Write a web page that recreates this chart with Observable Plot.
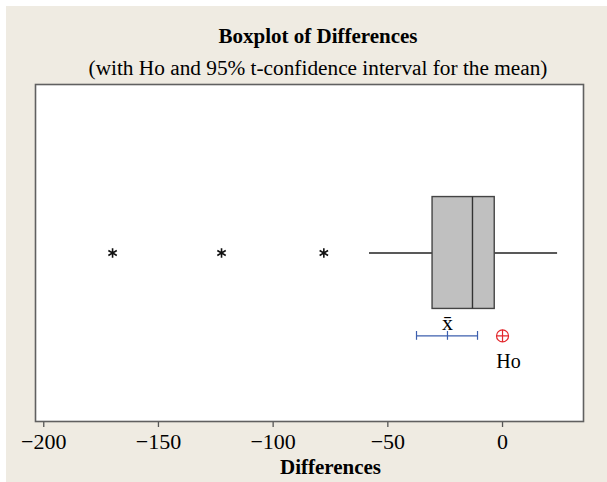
<!DOCTYPE html>
<html>
<head>
<meta charset="utf-8">
<script src="https://cdn.jsdelivr.net/npm/d3@7"></script>
<script src="https://cdn.jsdelivr.net/npm/@observablehq/plot@0.6"></script>
<style>
  html, body { margin: 0; padding: 0; background: #ffffff; }
  #page { position: relative; width: 607px; height: 482px; overflow: hidden; }
  #panel { position: absolute; left: 6px; top: 6px; width: 601px; height: 476px; background: #efebe2; }
  .ttl { position: absolute; left: 0; width: 636px; text-align: center; font-family: "Liberation Serif", "Times New Roman", serif; font-size: 21px; line-height: 21px; color: #000; white-space: nowrap; }
  #title { top: 26px; font-weight: bold; }
  #subtitle { top: 58px; font-size: 21.3px; }
  #chart { position: absolute; left: 0; top: 80px; }
</style>
</head>
<body>
<div id="page">
  <div id="panel"></div>
  <div id="title" class="ttl">Boxplot of Differences</div>
  <div id="subtitle" class="ttl">(with Ho and 95% t-confidence interval for the mean)</div>
  <div id="chart"></div>
</div>
<script>
// ---- data ----
const titleText = "Boxplot of Differences";
const subtitleText = "(with Ho and 95% t-confidence interval for the mean)";
const axisLabel = "Differences";
const xTicks = [-200, -150, -100, -50, 0];
const boxStats = {whiskerLow: -58, q1: -30.5, median: -13.1, q3: -3.4, whiskerHigh: 24};
const outliers = [-170, -122.5, -77.9];
const ciLow = [-37.5];
const ciMean = [-24.0];
const ciHigh = [-10.9];
const ho = [0];
const meanLabel = ["x\u0304"];
const hoLabel = ["Ho"];

// ---- layout constants (vertical rows inside the frame, 0 = bottom, 1 = top) ----
const rowBox = 0.5, boxHalf = 0.166, rowCI = 0.254, ciTick = 0.013;

const serif = "'Liberation Serif', 'Times New Roman', serif";
const blue = "#3d5fae", red = "#e3262b";

const whiskers = [
  {x1: boxStats.whiskerLow, x2: boxStats.q1},
  {x1: boxStats.q3, x2: boxStats.whiskerHigh}
];

const plot = Plot.plot({
  width: 607,
  height: 402,
  marginLeft: 35,
  marginRight: 24,
  marginTop: 4,
  marginBottom: 61,
  style: {fontFamily: serif, fontSize: "20px", color: "#000", background: "transparent", overflow: "visible"},
  x: {domain: [-203.6, 35.3], ticks: xTicks, tickFormat: d3.format("d")},
  y: {domain: [0, 1], axis: null},
  marks: [
    Plot.frame({fill: "#ffffff"}),
    // whiskers
    Plot.ruleY(whiskers, {x1: "x1", x2: "x2", y: rowBox, stroke: "#222", strokeWidth: 1.3}),
    // box
    Plot.rect([boxStats], {x1: "q1", x2: "q3", y1: rowBox - boxHalf, y2: rowBox + boxHalf, fill: "#c0c0c0", stroke: "#444", strokeWidth: 1.4}),
    Plot.ruleX([boxStats.median], {y1: rowBox - boxHalf, y2: rowBox + boxHalf, stroke: "#333", strokeWidth: 1.4}),
    // outliers
    Plot.dot(outliers, {x: d => d, y: rowBox, symbol: "asterisk", r: 4.6, stroke: "#111", strokeWidth: 1.6}),
    // confidence interval
    Plot.ruleY([0], {x1: () => ciLow[0], x2: () => ciHigh[0], y: rowCI, stroke: blue, strokeWidth: 1.2}),
    Plot.ruleX([ciLow[0], ciMean[0], ciHigh[0]], {x: d => d, y1: rowCI - ciTick, y2: rowCI + ciTick, stroke: blue, strokeWidth: 1.2}),
    Plot.text(meanLabel, {x: () => ciMean[0], y: rowCI, text: d => d, dy: -13, fontSize: 22, fill: "#000"}),
    // Ho
    Plot.dot(ho, {x: d => d, y: rowCI, r: 6, stroke: red, strokeWidth: 1.2, fill: "none"}),
    Plot.dot(ho, {x: d => d, y: rowCI, symbol: "plus", r: 4, stroke: red, strokeWidth: 1.2}),
    Plot.text(hoLabel, {x: () => ho[0], y: rowCI, text: d => d, dx: 6, dy: 26, fontSize: 20, fill: "#000"}),
    // axis
    Plot.axisX({ticks: xTicks, tickSize: 6, tickPadding: 6, label: null, stroke: "#555", strokeWidth: 1.3, fontSize: 22}),
    Plot.text([axisLabel], {frameAnchor: "bottom", dy: 52, dx: 21, text: d => d, fontWeight: "bold", fontSize: 21, fill: "#000"}),
    Plot.frame({stroke: "#606060", strokeWidth: 1.6})
  ]
});
document.getElementById("chart").appendChild(plot);
document.getElementById("title").textContent = titleText;
document.getElementById("subtitle").textContent = subtitleText;
</script>
</body>
</html>
